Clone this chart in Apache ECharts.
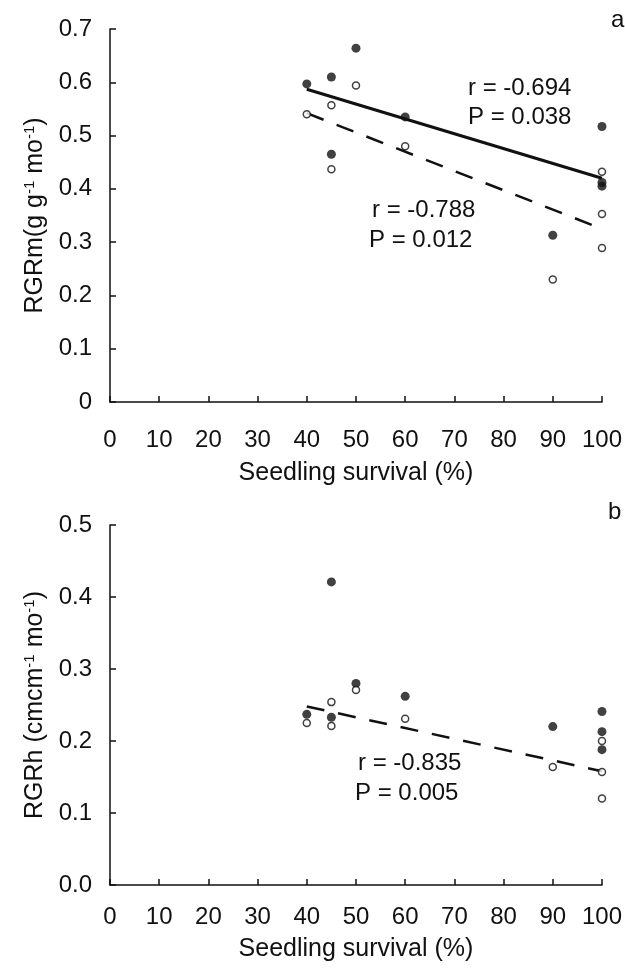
<!DOCTYPE html>
<html>
<head>
<meta charset="utf-8">
<script src="https://cdn.jsdelivr.net/npm/echarts@6/dist/echarts.min.js"></script>
<style>
  html, body { margin: 0; padding: 0; background: #fff; }
  #chart { width: 625px; height: 968px; }
</style>
</head>
<body>
<div id="chart"></div>
<script>
// ---- Data ----
const xTicksLabels = ['0','10','20','30','40','50','60','70','80','90','100'];

// Panel a: RGRm vs seedling survival
const survivalAFilled = [40, 45, 45, 50, 60, 90, 100, 100, 100];
const rgrmFilled      = [0.597, 0.610, 0.465, 0.664, 0.535, 0.313, 0.517, 0.412, 0.405];
const survivalAOpen   = [40, 45, 45, 50, 60, 90, 100, 100, 100];
const rgrmOpen        = [0.540, 0.557, 0.437, 0.594, 0.480, 0.230, 0.432, 0.353, 0.289];
const fitAX           = [40, 100];
const fitAFilled      = [0.587, 0.420];
const fitAOpen        = [0.542, 0.325];

// Panel b: RGRh vs seedling survival
const survivalBFilled = [40, 45, 45, 50, 60, 90, 100, 100, 100];
const rgrhFilled      = [0.237, 0.421, 0.233, 0.280, 0.262, 0.220, 0.241, 0.213, 0.188];
const survivalBOpen   = [40, 45, 45, 50, 60, 90, 100, 100, 100];
const rgrhOpen        = [0.225, 0.254, 0.221, 0.271, 0.231, 0.164, 0.200, 0.157, 0.120];
const fitBX           = [40, 100];
const fitBOpen        = [0.248, 0.158];

const statsA1 = ['r = -0.694', 'P = 0.038'];
const statsA2 = ['r = -0.788', 'P = 0.012'];
const statsB  = ['r = -0.835', 'P = 0.005'];

// ---- Helpers ----
const zip = (xs, ys) => xs.map((x, i) => [x, ys[i]]);
const FONT = '"Liberation Sans", Arial, sans-serif';
const INK = '#111';

function xAxisCfg(gridIndex, labelMargin, nameGap) {
  return {
    type: 'value', gridIndex, min: 0, max: 100, interval: 10,
    name: 'Seedling survival (%)', nameLocation: 'middle', nameGap,
    nameTextStyle: { fontFamily: FONT, fontSize: 25, color: INK },
    axisLine: { lineStyle: { color: INK, width: 1.5 } },
    axisTick: { inside: true, length: 6, lineStyle: { color: INK, width: 1.5 } },
    axisLabel: { fontFamily: FONT, fontSize: 24, color: INK, margin: labelMargin,
                 formatter: v => xTicksLabels[Math.round(v / 10)] },
    splitLine: { show: false }
  };
}
function yAxisCfg(gridIndex, max, name, fmt) {
  return {
    type: 'value', gridIndex, min: 0, max, interval: 0.1,
    name, nameLocation: 'middle', nameGap: 62,
    nameTextStyle: { fontFamily: FONT, fontSize: 25, color: INK,
      rich: { s: { fontFamily: FONT, fontSize: 15, color: INK, verticalAlign: 'top', lineHeight: 15 } } },
    axisLine: { lineStyle: { color: INK, width: 1.5 } },
    axisTick: { inside: true, length: 6, lineStyle: { color: INK, width: 1.5 } },
    axisLabel: { fontFamily: FONT, fontSize: 24, color: INK, margin: 18, formatter: fmt },
    splitLine: { show: false }
  };
}
function filledSeries(xi, yi, data) {
  return { type: 'scatter', xAxisIndex: xi, yAxisIndex: yi, data, symbol: 'circle', symbolSize: 9,
           itemStyle: { color: INK }, z: 5, silent: true };
}
function openSeries(xi, yi, data) {
  return { type: 'scatter', xAxisIndex: xi, yAxisIndex: yi, data, symbol: 'circle', symbolSize: 7,
           itemStyle: { color: '#fff', borderColor: INK, borderWidth: 1.5 }, z: 6, silent: true };
}
function lineSeries(xi, yi, data, dashed) {
  return { type: 'line', xAxisIndex: xi, yAxisIndex: yi, data, symbol: 'none', silent: true,
           lineStyle: { color: INK, width: dashed ? 2.5 : 3, type: dashed ? [18, 14] : 'solid' }, z: 4 };
}
function txt(left, top, text) {
  return { type: 'text', left, top, style: { text, font: '24px ' + FONT, fill: INK } };
}

const chart = echarts.init(document.getElementById('chart'), null, { renderer: 'canvas' });
chart.setOption({
  backgroundColor: '#fff',
  animation: false,
  grid: [
    { left: 110, right: 23, top: 29, bottom: 566, containLabel: false },
    { left: 110, right: 23, top: 525, bottom: 83, containLabel: false }
  ],
  xAxis: [ xAxisCfg(0, 26, 59), xAxisCfg(1, 20, 52) ],
  yAxis: [
    yAxisCfg(0, 0.7, 'RGRm(g g{s|-1} mo{s|-1})', v => (v === 0 ? '0' : v.toFixed(1))),
    yAxisCfg(1, 0.5, 'RGRh (cmcm{s|-1} mo{s|-1})', v => v.toFixed(1))
  ],
  series: [
    lineSeries(0, 0, zip(fitAX, fitAFilled), false),
    lineSeries(0, 0, zip(fitAX, fitAOpen), true),
    filledSeries(0, 0, zip(survivalAFilled, rgrmFilled)),
    openSeries(0, 0, zip(survivalAOpen, rgrmOpen)),
    lineSeries(1, 1, zip(fitBX, fitBOpen), true),
    filledSeries(1, 1, zip(survivalBFilled, rgrhFilled)),
    openSeries(1, 1, zip(survivalBOpen, rgrhOpen))
  ],
  graphic: [
    txt(468, 76, statsA1[0]), txt(468, 105, statsA1[1]),
    txt(372, 198, statsA2[0]), txt(369, 228, statsA2[1]),
    txt(358, 751, statsB[0]), txt(355, 781, statsB[1]),
    { type: 'text', left: 611, top: 8, style: { text: 'a', font: '24px ' + FONT, fill: INK } },
    { type: 'text', left: 608, top: 500, style: { text: 'b', font: '24px ' + FONT, fill: INK } }
  ]
});
</script>
</body>
</html>
